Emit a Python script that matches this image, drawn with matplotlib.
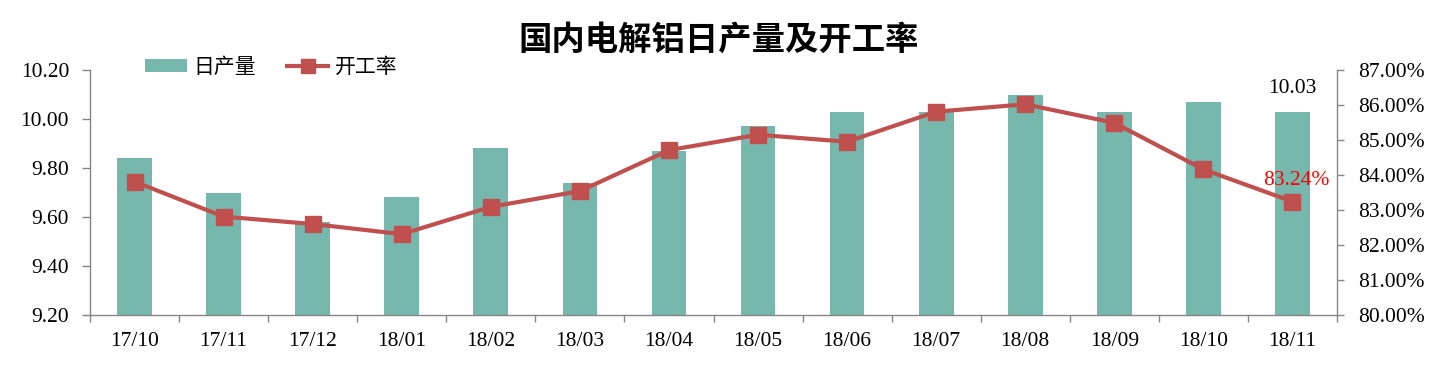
import matplotlib
matplotlib.use("Agg")
import matplotlib.pyplot as plt
from matplotlib.ticker import FixedLocator, FormatStrFormatter
from matplotlib.lines import Line2D
from matplotlib.patches import Patch

categories = ["17/10", "17/11", "17/12", "18/01", "18/02", "18/03", "18/04",
              "18/05", "18/06", "18/07", "18/08", "18/09", "18/10", "18/11"]
daily_output = [9.84, 9.70, 9.58, 9.68, 9.88, 9.74, 9.87,
                9.97, 10.03, 10.03, 10.10, 10.03, 10.07, 10.03]
utilization = [83.81, 82.81, 82.60, 82.31, 83.09, 83.54, 84.71,
               85.15, 84.95, 85.81, 86.02, 85.49, 84.16, 83.24]
left_ticks = [9.20, 9.40, 9.60, 9.80, 10.00, 10.20]
right_ticks = [80, 81, 82, 83, 84, 85, 86, 87]

BAR_C = "#76B8AE"
LINE_C = "#C0504D"
SPINE_C = "#868686"
SERIF = ["Liberation Serif", "DejaVu Serif"]
CJK = ["Noto Sans CJK SC", "DejaVu Sans"]
FS = 15.5

W, H = 1437, 368
fig = plt.figure(figsize=(W / 100, H / 100), dpi=100)
ax = fig.add_axes([90 / W, 1 - 315 / H, (1337 - 90) / W, (315 - 70) / H])
ax2 = ax.twinx()

x = list(range(len(categories)))
ax.bar(x, daily_output, width=0.39, color=BAR_C, zorder=2)
ax.set_xlim(-0.5, len(categories) - 0.5)
ax.set_ylim(9.2, 10.2)
ax.yaxis.set_major_locator(FixedLocator(left_ticks))
ax.yaxis.set_major_formatter(FormatStrFormatter("%.2f"))

ax2.plot(x, utilization, color=LINE_C, lw=3, marker="s", ms=12,
         markerfacecolor=LINE_C, markeredgecolor=LINE_C, zorder=3)
ax2.set_ylim(80, 87)
ax2.yaxis.set_major_locator(FixedLocator(right_ticks))
ax2.yaxis.set_major_formatter(FormatStrFormatter("%.2f%%"))

# x ticks: labels at centers, tick marks at boundaries
ax.set_xticks(x)
ax.set_xticklabels(categories)
ax.set_xticks([i - 0.5 for i in range(len(categories) + 1)], minor=True)
ax.tick_params(axis="x", which="major", length=0, pad=12)
ax.tick_params(axis="x", which="minor", length=5, color=SPINE_C, width=1, direction="out")
ax.tick_params(axis="y", length=6, color=SPINE_C, width=1, pad=9, direction="out")
ax2.tick_params(axis="y", length=5, color=SPINE_C, width=1, pad=10.5, direction="out")

for a in (ax, ax2):
    a.spines["top"].set_visible(False)
    for s in ("left", "right", "bottom"):
        a.spines[s].set_color(SPINE_C)
        a.spines[s].set_linewidth(1)
ax.spines["right"].set_visible(False)
ax2.spines["left"].set_visible(False)
ax2.spines["bottom"].set_visible(False)

for lab in ax.get_xticklabels() + ax.get_yticklabels() + ax2.get_yticklabels():
    lab.set_fontfamily(SERIF)
    lab.set_fontsize(FS)
    lab.set_color("black")

# data labels on the last point
ax.annotate(f"{daily_output[-1]:.2f}", (x[-1], daily_output[-1]),
            xytext=(0, 16.5), textcoords="offset points", ha="center", va="center",
            fontfamily=SERIF, fontsize=FS, color="black")
ax2.annotate(f"{utilization[-1]:.2f}%", (x[-1], utilization[-1]),
             xytext=(3, 15), textcoords="offset points", ha="center", va="center",
             fontfamily=SERIF, fontsize=FS, color="#FF0000")

# title
fig.text(719 / W, 1 - 40 / H, "国内电解铝日产量及开工率", ha="center", va="center",
         fontfamily=CJK, fontsize=24, fontweight="bold")

# legend
handles = [Patch(facecolor=BAR_C, edgecolor="none"),
           Line2D([], [], color=LINE_C, lw=3, marker="s", ms=10,
                  markerfacecolor=LINE_C, markeredgecolor=LINE_C)]
leg = fig.legend(handles, ["日产量", "开工率"], loc="center left",
                 bbox_to_anchor=(145 / W, 1 - 67 / H), ncol=2, frameon=False,
                 borderpad=0, borderaxespad=0, handlelength=2.0, handleheight=0.6,
                 handletextpad=0.3, columnspacing=1.5,
                 prop={"family": CJK, "size": 15})

fig.savefig("out.png", dpi=100)
